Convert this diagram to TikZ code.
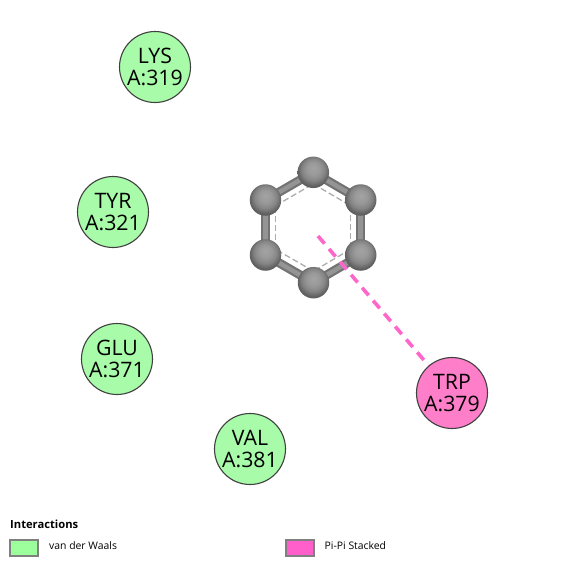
\documentclass[tikz,border=0pt]{standalone}
\usepackage{fontspec}
\setmainfont{Open Sans}
\usetikzlibrary{calc,backgrounds}
\definecolor{vdw}{HTML}{A8FBA8}
\definecolor{pipi}{HTML}{FF7EC9}
\definecolor{vdwkey}{HTML}{9CFF9C}
\definecolor{pipikey}{HTML}{FF5FCB}
\definecolor{dashpink}{HTML}{FF66CC}
\pgfdeclareradialshading{atomball}{\pgfpoint{0bp}{7bp}}{%
  color(0bp)=(black!36);
  color(10bp)=(black!40);
  color(18bp)=(black!48);
  color(25bp)=(black!62);
  color(50bp)=(black!70)}
\tikzset{
  residue/.style={circle,draw=black!75,line width=1.1pt,minimum size=71pt,inner sep=0pt,align=center,font=\fontsize{21.3}{21.5}\selectfont},
  atom/.style={circle,minimum size=31.5pt,inner sep=0pt,shading=atomball},
  bondouter/.style={line width=9pt,color=black!55},
  bondinner/.style={line width=4.5pt,color=black!42},
  aromatic/.style={line width=1.3pt,color=black!32,dash pattern=on 6pt off 3pt},
  pistack/.style={line width=3.6pt,color=dashpink,dash pattern=on 10pt off 7pt},
  keybox/.style={draw=black!50,line width=2pt,minimum width=27.5pt,minimum height=16pt,inner sep=0pt},
  keytext/.style={anchor=west,inner sep=0pt,font=\fontsize{10.4}{12}\selectfont},
}
\begin{document}
\begin{tikzpicture}[x=1pt,y=-1pt]
\useasboundingbox (0,0) rectangle (565,566);
\coordinate (ring) at (313,227.5);
\coordinate (pistart) at (318,236);
\node[atom] (a1) at (313.3,172.3) {};
\node[atom] (a2) at (360.7,200) {};
\node[atom] (a3) at (360.7,255) {};
\node[atom] (a4) at (313.5,282.7) {};
\node[atom] (a5) at (265.5,255) {};
\node[atom] (a6) at (265.5,200) {};
\begin{pgfonlayer}{background}
\fill[white] (0,0) rectangle (565,566);
\foreach \p/\q in {a1/a2,a2/a3,a3/a4,a4/a5,a5/a6,a6/a1}{
  \draw[bondouter] (\p.center) -- (\q.center);
  \draw[bondinner] (\p.center) -- (\q.center);
}
\foreach \p/\q in {a1/a2,a2/a3,a3/a4,a4/a5,a5/a6,a6/a1}{
  \draw[aromatic] ($(ring)!0.79!(\p.center)$) -- ($(ring)!0.79!(\q.center)$);
}
\end{pgfonlayer}
\node[residue,fill=vdw] (lys) at (155,67) {LYS\\A:319};
\node[residue,fill=vdw] (tyr) at (113,212) {TYR\\A:321};
\node[residue,fill=vdw] (glu) at (117,359) {GLU\\A:371};
\node[residue,fill=vdw] (val) at (250,449) {VAL\\A:381};
\node[residue,fill=pipi] (trp) at (452,393) {TRP\\A:379};
\draw[pistack] (pistart) -- (trp);
\node[anchor=west,inner sep=0pt,font=\fontsize{11.2}{13}\selectfont\bfseries] (keytitle) at (10,524) {Interactions};
\node[keybox,fill=vdwkey] (keyvdw) at (24,547.8) {};
\node[keytext] (keyvdwtext) at (49,546) {van der Waals};
\node[keybox,fill=pipikey] (keypi) at (300,547.8) {};
\node[keytext] (keypitext) at (324.5,546) {Pi-Pi Stacked};
\end{tikzpicture}
\end{document}
